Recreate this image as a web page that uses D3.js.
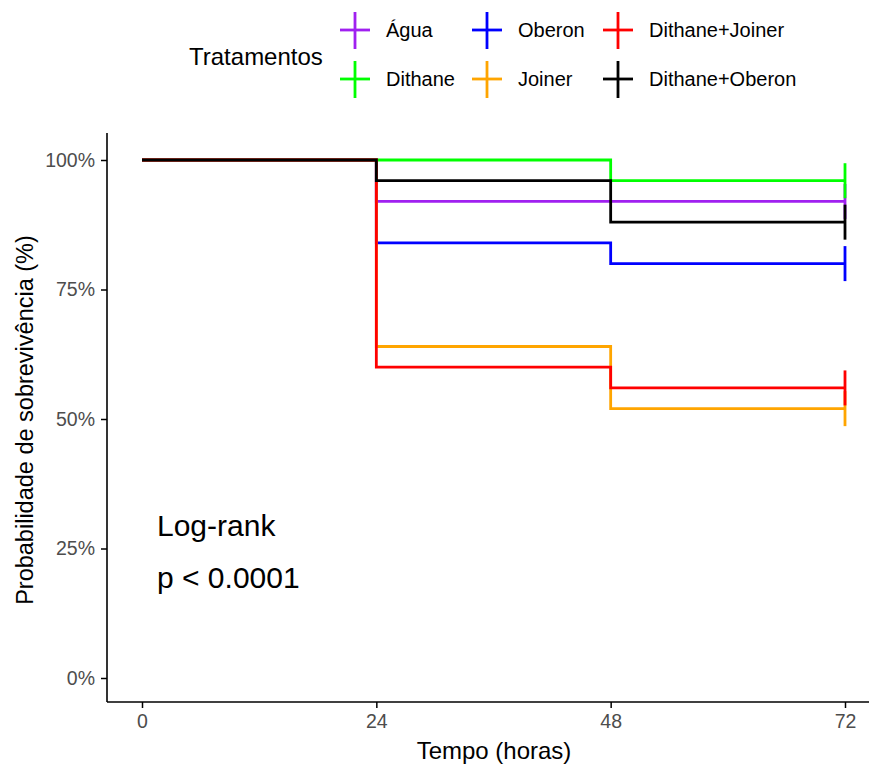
<!DOCTYPE html>
<html>
<head>
<meta charset="utf-8">
<script src="https://cdn.jsdelivr.net/npm/d3@7"></script>
<style>
  body { margin: 0; background: #fff; }
  text { font-family: "Liberation Sans", Arial, sans-serif; }
</style>
</head>
<body>
<svg id="chart" width="869" height="765"></svg>
<script>
// Data
var times = [0, 24, 48, 72];
var groups = ['Água', 'Dithane', 'Oberon', 'Joiner', 'Dithane+Joiner', 'Dithane+Oberon'];
var colors = ['#A020F0', '#00FF00', '#0000FF', '#FFA500', '#FF0000', '#000000'];
var agua = [100, 92, 92, 92];
var dithane = [100, 100, 96, 96];
var oberon = [100, 84, 80, 80];
var joiner = [100, 64, 52, 52];
var dithaneJoiner = [100, 60, 56, 56];
var dithaneOberon = [100, 96, 88, 88];
var xTicks = [0, 24, 48, 72];
var yTicks = [0, 25, 50, 75, 100];

var series = [agua, dithane, oberon, joiner, dithaneJoiner, dithaneOberon];

var svg = d3.select('#chart');

// Panel edges
var pLeft = 107, pTop = 133, pBottom = 702;
var lw = 2.8;

var x = d3.scaleLinear().domain([0, 72]).range([142, 845]);
var y = d3.scaleLinear().domain([0, 100]).range([678, 160]);

// Axes
var xAxis = svg.append('g')
  .attr('transform', 'translate(0,' + pBottom + ')')
  .call(d3.axisBottom(x).tickValues(xTicks).tickSize(6).tickPadding(6).tickSizeOuter(0));
var yAxis = svg.append('g')
  .attr('transform', 'translate(' + pLeft + ',0)')
  .call(d3.axisLeft(y).tickValues(yTicks).tickFormat((d) => d + '%').tickSize(6).tickPadding(6).tickSizeOuter(0));

[xAxis, yAxis].forEach((g) => {
  g.select('.domain').remove();
  g.selectAll('line').attr('stroke', '#000').attr('stroke-width', 1.5);
  g.selectAll('text')
    .style('font-family', '"Liberation Sans", Arial, sans-serif')
    .style('font-size', '19.5px')
    .attr('fill', '#4D4D4D');
});

svg.append('line')
  .attr('x1', pLeft).attr('x2', pLeft)
  .attr('y1', pTop).attr('y2', pBottom)
  .attr('stroke', '#000').attr('stroke-width', 1.6);
svg.append('line')
  .attr('x1', pLeft).attr('x2', 869)
  .attr('y1', pBottom).attr('y2', pBottom)
  .attr('stroke', '#000').attr('stroke-width', 1.6);

// Curves
var line = d3.line()
  .x((d, i) => x(times[i]))
  .y((d) => y(d))
  .curve(d3.curveStepAfter);

svg.append('g')
  .selectAll('.curve')
  .data(series)
  .enter()
  .append('path')
  .attr('class', 'curve')
  .attr('d', (d) => line(d))
  .attr('fill', 'none')
  .attr('stroke', (d, i) => colors[i])
  .attr('stroke-width', lw);

// Censor marks at the last time
var lastT = times[times.length - 1];
svg.append('g')
  .selectAll('.censor')
  .data(series)
  .enter()
  .append('line')
  .attr('class', 'censor')
  .attr('x1', x(lastT)).attr('x2', x(lastT))
  .attr('y1', (d) => y(d[d.length - 1]) - 17.5)
  .attr('y2', (d) => y(d[d.length - 1]) + 17.5)
  .attr('stroke', (d, i) => colors[i])
  .attr('stroke-width', lw);

// Annotation
svg.append('text')
  .attr('x', 157).attr('y', 536)
  .style('font-size', '30px')
  .text('Log-rank');
svg.append('text')
  .attr('x', 157).attr('y', 588)
  .style('font-size', '30px')
  .text('p < 0.0001');

// Axis titles
svg.append('text')
  .attr('x', 494).attr('y', 759)
  .attr('text-anchor', 'middle')
  .style('font-size', '24px')
  .text('Tempo (horas)');
svg.append('text')
  .attr('transform', 'translate(33,420) rotate(-90)')
  .attr('text-anchor', 'middle')
  .style('font-size', '23.5px')
  .text('Probabilidade de sobrevivência (%)');

// Legend
svg.append('text')
  .attr('x', 189).attr('y', 65)
  .style('font-size', '24px')
  .text('Tratamentos');

var colX = [355, 487, 618];
var rowY = [30, 79];
var legend = svg.append('g')
  .selectAll('.key')
  .data(groups)
  .enter()
  .append('g')
  .attr('class', 'key')
  .attr('transform', (d, i) => 'translate(' + colX[Math.floor(i / 2)] + ',' + rowY[i % 2] + ')');

legend.append('line')
  .attr('x1', -15).attr('x2', 15)
  .attr('y1', 0).attr('y2', 0)
  .attr('stroke', (d, i) => colors[i])
  .attr('stroke-width', lw);
legend.append('line')
  .attr('x1', 0).attr('x2', 0)
  .attr('y1', -18).attr('y2', 19)
  .attr('stroke', (d, i) => colors[i])
  .attr('stroke-width', lw);
legend.append('text')
  .attr('x', 31).attr('y', 7)
  .style('font-size', '20px')
  .text((d) => d);
</script>
</body>
</html>
